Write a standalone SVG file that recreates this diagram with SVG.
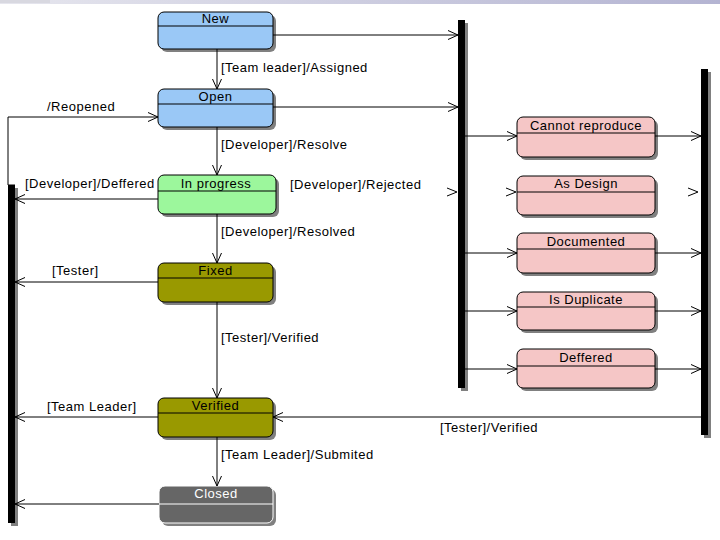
<svg xmlns="http://www.w3.org/2000/svg" width="720" height="540" viewBox="0 0 720 540">
<defs>
<linearGradient id="topg" x1="0" y1="0" x2="1" y2="0">
<stop offset="0" stop-color="#e6e6ee"/><stop offset="1" stop-color="#b4b4d2"/>
</linearGradient>
<marker id="ah" markerUnits="userSpaceOnUse" markerWidth="14" markerHeight="12" refX="11" refY="5" orient="auto" viewBox="0 0 14 10">
<path d="M1 0.5 L11 5 L1 9.5" fill="none" stroke="#000" stroke-width="1"/>
</marker>
</defs>
<style>
text{font-family:"Liberation Sans",Arial,sans-serif;font-size:13px;letter-spacing:0.5px;fill:#000}
.t{text-anchor:middle}
.sh{fill:#808080}
.box{stroke:#000;stroke-width:1}
.blue{fill:#9ac8f6}
.green{fill:#9cf79c}
.olive{fill:#999900}
.pink{fill:#f5c6c6}
.grey{fill:#666666;stroke:#fff}
.c line,.c path{stroke:#000;stroke-width:1;fill:none}
.bar{fill:#000}
</style>
<rect x="0" y="0" width="720" height="4" fill="url(#topg)"/>
<rect x="0" y="0" width="50" height="3" fill="#d8d8e0"/>

<g id="bars">
<rect class="sh" x="11" y="188" width="7" height="338"/>
<rect class="bar" x="8" y="185" width="7" height="338"/>
<rect class="sh" x="461" y="23" width="7" height="368"/>
<rect class="bar" x="458" y="20" width="7" height="368"/>
<rect class="sh" x="704" y="72" width="7" height="366"/>
<rect class="bar" x="701" y="69" width="7" height="366"/>
</g>

<g id="node-new">
<rect class="sh" x="161" y="15" width="115" height="37" rx="6"/>
<rect class="box blue" x="158" y="12" width="115" height="37" rx="6"/>
<line x1="158" y1="26" x2="273" y2="26" stroke="#000"/>
<text class="t" x="215.5" y="23">New</text>
</g>
<g id="node-open">
<rect class="sh" x="161" y="92" width="115" height="38" rx="6"/>
<rect class="box blue" x="158" y="89" width="115" height="38" rx="6"/>
<line x1="158" y1="104" x2="273" y2="104" stroke="#000"/>
<text class="t" x="215.5" y="101">Open</text>
</g>
<g id="node-inprogress">
<rect class="sh" x="161" y="178" width="118" height="39" rx="6"/>
<rect class="box green" x="158" y="175" width="118" height="39" rx="6"/>
<line x1="158" y1="191" x2="276" y2="191" stroke="#000"/>
<text class="t" x="216" y="188">In progress</text>
</g>
<g id="node-fixed">
<rect class="sh" x="161" y="266" width="115" height="39" rx="6"/>
<rect class="box olive" x="158" y="263" width="115" height="39" rx="6"/>
<line x1="158" y1="278" x2="273" y2="278" stroke="#000"/>
<text class="t" x="215.5" y="275">Fixed</text>
</g>
<g id="node-verified">
<rect class="sh" x="161" y="401" width="115" height="39" rx="6"/>
<rect class="box olive" x="158" y="398" width="115" height="39" rx="6"/>
<line x1="158" y1="413" x2="273" y2="413" stroke="#000"/>
<text class="t" x="215.5" y="410">Verified</text>
</g>
<g id="node-closed">
<rect class="sh" x="162" y="489" width="114" height="37" rx="6" fill="#999"/>
<rect class="grey" x="159" y="486" width="114" height="37" rx="6" stroke-width="1"/>
<line x1="159" y1="504" x2="273" y2="504" stroke="#fff"/>
<text class="t" x="216" y="498" style="fill:#fff">Closed</text>
</g>

<g id="node-cannot">
<rect class="sh" x="520" y="120" width="138" height="40" rx="6"/>
<rect class="box pink" x="517" y="117" width="138" height="40" rx="6"/>
<line x1="517" y1="133" x2="655" y2="133" stroke="#000"/>
<text class="t" x="586" y="130">Cannot reproduce</text>
</g>
<g id="node-asdesign">
<rect class="sh" x="520" y="179" width="138" height="39" rx="6"/>
<rect class="box pink" x="517" y="176" width="138" height="39" rx="6"/>
<line x1="517" y1="192" x2="655" y2="192" stroke="#000"/>
<text class="t" x="586" y="188">As Design</text>
</g>
<g id="node-documented">
<rect class="sh" x="520" y="236" width="138" height="40" rx="6"/>
<rect class="box pink" x="517" y="233" width="138" height="40" rx="6"/>
<line x1="517" y1="249" x2="655" y2="249" stroke="#000"/>
<text class="t" x="586" y="246">Documented</text>
</g>
<g id="node-duplicate">
<rect class="sh" x="520" y="295" width="138" height="38" rx="6"/>
<rect class="box pink" x="517" y="292" width="138" height="38" rx="6"/>
<line x1="517" y1="307" x2="655" y2="307" stroke="#000"/>
<text class="t" x="586" y="304">Is Duplicate</text>
</g>
<g id="node-deffered">
<rect class="sh" x="520" y="352" width="138" height="39" rx="6"/>
<rect class="box pink" x="517" y="349" width="138" height="39" rx="6"/>
<line x1="517" y1="366" x2="655" y2="366" stroke="#000"/>
<text class="t" x="586" y="362">Deffered</text>
</g>

<g id="connectors" class="c">
<line x1="273" y1="35" x2="458" y2="35" marker-end="url(#ah)"/>
<line x1="273" y1="107" x2="458" y2="107" marker-end="url(#ah)"/>
<line x1="217" y1="49" x2="217" y2="89" marker-end="url(#ah)"/>
<line x1="217" y1="127" x2="217" y2="175" marker-end="url(#ah)"/>
<line x1="217" y1="214" x2="217" y2="263" marker-end="url(#ah)"/>
<line x1="217" y1="302" x2="217" y2="398" marker-end="url(#ah)"/>
<line x1="217" y1="437" x2="217" y2="486" marker-end="url(#ah)"/>
<path d="M15 185 L8 185 L8 117 L158 117" marker-end="url(#ah)"/>
<line x1="158" y1="199" x2="15" y2="199" marker-end="url(#ah)"/>
<line x1="158" y1="282" x2="15" y2="282" marker-end="url(#ah)"/>
<line x1="158" y1="417" x2="15" y2="417" marker-end="url(#ah)"/>
<line x1="159" y1="504" x2="15" y2="504" marker-end="url(#ah)"/>
<line x1="701" y1="417" x2="273" y2="417" marker-end="url(#ah)"/>
<line x1="465" y1="136" x2="517" y2="136" marker-end="url(#ah)"/>
<line x1="655" y1="136" x2="701" y2="136" marker-end="url(#ah)"/>
<line x1="465" y1="253" x2="517" y2="253" marker-end="url(#ah)"/>
<line x1="655" y1="253" x2="701" y2="253" marker-end="url(#ah)"/>
<line x1="465" y1="311" x2="517" y2="311" marker-end="url(#ah)"/>
<line x1="655" y1="311" x2="701" y2="311" marker-end="url(#ah)"/>
<line x1="465" y1="369" x2="517" y2="369" marker-end="url(#ah)"/>
<line x1="655" y1="369" x2="701" y2="369" marker-end="url(#ah)"/>
<path d="M447 188 L457 192 L447 196"/>
<path d="M506 188 L516 192 L506 196"/>
<path d="M688 188 L698 192 L688 196"/>
</g>

<g id="labels">
<text x="221" y="72">[Team leader]/Assigned</text>
<text x="221" y="149">[Developer]/Resolve</text>
<text x="221" y="236">[Developer]/Resolved</text>
<text x="221" y="342">[Tester]/Verified</text>
<text x="221" y="459">[Team Leader]/Submited</text>
<text x="47" y="111">/Reopened</text>
<text x="25" y="188">[Developer]/Deffered</text>
<text x="290" y="189">[Developer]/Rejected</text>
<text x="52" y="275">[Tester]</text>
<text x="47" y="411">[Team Leader]</text>
<text x="440" y="432">[Tester]/Verified</text>
</g>
</svg>
